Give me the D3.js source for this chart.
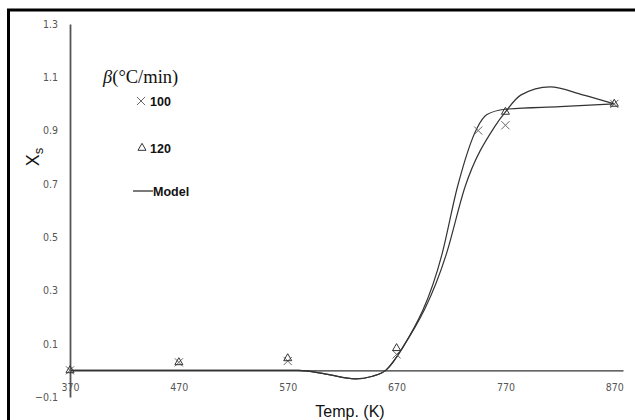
<!DOCTYPE html>
<html>
<head>
<meta charset="utf-8">
<script src="https://cdn.jsdelivr.net/npm/d3@7"></script>
<style>
  body { margin: 0; background: #fff; }
  text { font-family: "Liberation Sans", Arial, sans-serif; }
</style>
</head>
<body>
<div id="vis"></div>
<script>
// measured points, beta = 100 and 120 °C/min
var temp100 = [370, 470, 570, 670, 745, 770, 870];
var xs100   = [0, 0.03, 0.035, 0.06, 0.90, 0.92, 1.0];
var temp120 = [370, 470, 570, 670, 770, 870];
var xs120   = [0, 0.03, 0.045, 0.083, 0.97, 1.0];

// model curves
var modelT100 = [370, 470, 580, 605, 632, 648, 660, 676, 712, 726, 744, 753, 770, 820, 870];
var modelX100 = [0, 0, 0, -0.014, -0.032, -0.022, 0, 0.088, 0.44, 0.69, 0.91, 0.96, 0.98, 0.99, 1.0];
var modelT120 = [370, 470, 580, 605, 632, 648, 660, 676, 716, 733, 760, 770, 784, 811, 841, 870];
var modelX120 = [0, 0, 0, -0.014, -0.032, -0.022, 0, 0.088, 0.44, 0.69, 0.914, 0.97, 1.033, 1.064, 1.034, 1.0];

var xTicks = [370, 470, 570, 670, 770, 870];
var yTicks = [-0.1, 0.1, 0.3, 0.5, 0.7, 0.9, 1.1, 1.3];

var width = 635, height = 420;

var svg = d3.select("#vis")
    .append("svg")
    .attr("width", width)
    .attr("height", height);

// frame (only top and left edges fall inside the picture)
svg.append("rect")
    .attr("x", 8.5).attr("y", 10)
    .attr("width", 700).attr("height", 500)
    .attr("fill", "none")
    .attr("stroke", "#000")
    .attr("stroke-width", 3);

var x = d3.scaleLinear().domain([370, 878]).range([70, 623]);
var y = d3.scaleLinear().domain([-0.1, 1.3]).range([397, 24]);

// x axis along Xs = 0
var xAxis = d3.axisBottom(x).tickValues(xTicks).tickSize(0).tickPadding(13);
var gx = svg.append("g")
    .attr("transform", "translate(0," + y(0) + ")")
    .call(xAxis);
gx.select(".domain").attr("stroke", "#333").attr("stroke-width", 1.3);
gx.selectAll("text")
    .attr("fill", "#555")
    .style("font-size", "10.5px")
    .style("font-family", "'Liberation Sans Narrow', 'DejaVu Sans Condensed', sans-serif");

var yAxis = d3.axisLeft(y).tickValues(yTicks).tickSize(0).tickPadding(12)
    .tickFormat(d3.format(".1f"));
var gy = svg.append("g")
    .attr("transform", "translate(" + x(370) + ",0)")
    .call(yAxis);
gy.select(".domain").attr("stroke", "#555").attr("stroke-width", 1.8);
gy.selectAll("text")
    .attr("fill", "#555")
    .style("font-size", "10.5px")
    .style("font-family", "'Liberation Sans Narrow', 'DejaVu Sans Condensed', sans-serif");

// model lines
var line = d3.line()
    .x(d => x(d[0]))
    .y(d => y(d[1]))
    .curve(d3.curveMonotoneX);

[[modelT100, modelX100], [modelT120, modelX120]].forEach(function (m) {
    svg.append("path")
        .datum(d3.zip(m[0], m[1]))
        .attr("d", line)
        .attr("fill", "none")
        .attr("stroke", "#333")
        .attr("stroke-width", 1.2);
});

// markers
var cross = d3.symbol().type(d3.symbolX).size(45);
var tri = d3.symbol().type(d3.symbolTriangle).size(28);

svg.selectAll(".p100")
    .data(d3.zip(temp100, xs100))
    .enter().append("path")
    .attr("class", "p100")
    .attr("transform", d => "translate(" + x(d[0]) + "," + y(d[1]) + ")")
    .attr("d", cross)
    .attr("fill", "none")
    .attr("stroke", "#666")
    .attr("stroke-width", 1);

svg.selectAll(".p120")
    .data(d3.zip(temp120, xs120))
    .enter().append("path")
    .attr("class", "p120")
    .attr("transform", d => "translate(" + x(d[0]) + "," + y(d[1]) + ")")
    .attr("d", tri)
    .attr("fill", "none")
    .attr("stroke", "#333")
    .attr("stroke-width", 1);

// axis titles
svg.append("text")
    .attr("x", 350).attr("y", 417)
    .attr("text-anchor", "middle")
    .style("font-size", "16px")
    .attr("fill", "#111")
    .text("Temp. (K)");

var yt = svg.append("text")
    .attr("transform", "translate(39,157) rotate(-90)")
    .attr("text-anchor", "middle")
    .style("font-size", "18px")
    .attr("fill", "#111");
yt.append("tspan").text("X");
yt.append("tspan").attr("dy", 4).style("font-size", "13px").text("s");

// legend
var lg = svg.append("text")
    .attr("x", 103).attr("y", 83)
    .style("font-family", "'Liberation Serif', 'Times New Roman', serif")
    .style("font-size", "18.5px")
    .attr("fill", "#111");
lg.append("tspan").style("font-style", "italic").text("β");
lg.append("tspan").text("(°C/min)");

svg.append("path")
    .attr("transform", "translate(141,101)")
    .attr("d", cross)
    .attr("fill", "none")
    .attr("stroke", "#666");
svg.append("text")
    .attr("x", 150).attr("y", 105.5)
    .style("font-size", "12.5px").style("font-weight", "bold")
    .attr("fill", "#111")
    .text("100");

svg.append("path")
    .attr("transform", "translate(142,148)")
    .attr("d", tri)
    .attr("fill", "none")
    .attr("stroke", "#333");
svg.append("text")
    .attr("x", 150).attr("y", 152.5)
    .style("font-size", "12.5px").style("font-weight", "bold")
    .attr("fill", "#111")
    .text("120");

svg.append("line")
    .attr("x1", 133).attr("x2", 153)
    .attr("y1", 191).attr("y2", 191)
    .attr("stroke", "#333").attr("stroke-width", 1.3);
svg.append("text")
    .attr("x", 153).attr("y", 195.5)
    .style("font-size", "12.5px").style("font-weight", "bold")
    .attr("fill", "#111")
    .text("Model");
</script>
</body>
</html>
